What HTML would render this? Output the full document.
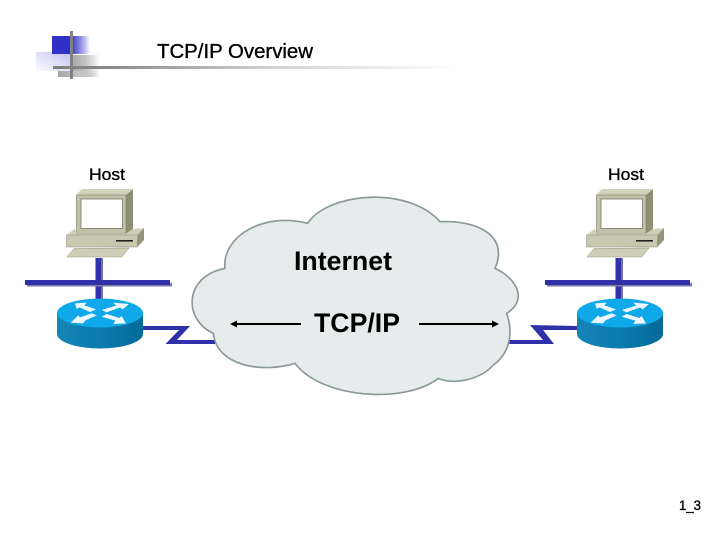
<!DOCTYPE html>
<html>
<head>
<meta charset="utf-8">
<style>
html,body{margin:0;padding:0;background:#fff}
svg{display:block}
text{font-family:"Liberation Sans",sans-serif;fill:#000}
.r{stroke:#000;stroke-width:.35}
</style>
</head>
<body>
<svg width="720" height="540" viewBox="0 0 720 540" xmlns="http://www.w3.org/2000/svg">
<defs>
<linearGradient id="blue" x1="0" x2="1" y1="0" y2="0">
<stop offset="0" stop-color="#3030c4"/><stop offset=".53" stop-color="#3030c4"/><stop offset=".6" stop-color="#5a5ad0"/><stop offset="1" stop-color="#3333cc" stop-opacity="0"/>
</linearGradient>
<linearGradient id="lav" x1="0" x2="1" y1="1" y2="0">
<stop offset="0" stop-color="#fbfbff"/><stop offset=".55" stop-color="#dcdcf8"/><stop offset="1" stop-color="#c0c0f0"/>
</linearGradient>
<linearGradient id="gray" x1="0" x2="1" y1="0" y2="0">
<stop offset="0" stop-color="#a8a8a8"/><stop offset=".5" stop-color="#c4c4c4"/><stop offset="1" stop-color="#c4c4c4" stop-opacity="0"/>
</linearGradient>
<linearGradient id="line" x1="0" x2="1" y1="0" y2="0">
<stop offset="0" stop-color="#808080"/><stop offset=".15" stop-color="#8c8c8c"/><stop offset=".55" stop-color="#d4d4d4"/><stop offset="1" stop-color="#fff"/>
</linearGradient>
<linearGradient id="rside" x1="0" x2="1" y1="0" y2="0">
<stop offset="0" stop-color="#1585b5"/><stop offset=".5" stop-color="#0a7cae"/><stop offset="1" stop-color="#056a98"/>
</linearGradient>

<g id="host">
  <!-- monitor -->
  <polygon points="76.5,195 81.5,189 133,189 126,195" fill="#d2d2ba"/>
  <polygon points="126,195 133,189 133,229 126,234" fill="#8e8e72"/>
  <rect x="76.5" y="195" width="49.5" height="38.5" fill="#c2c2a8" stroke="#7c7c6a" stroke-width=".6"/>
  <rect x="81" y="199" width="41.5" height="29.5" fill="#fff" stroke="#77776a" stroke-width=".8"/>
  <!-- base -->
  <polygon points="66.5,235 75,228.5 76.5,233.5 126,233.5 133,229 144,228 137.5,235" fill="#d0d0b8"/>
  <polygon points="137.5,235 144,228 144,240 137.5,247" fill="#94947a"/>
  <rect x="66.5" y="235" width="71" height="12" fill="#c8c8b0" stroke="#8c8c7c" stroke-width=".5"/>
  <rect x="116" y="240" width="17" height="1.6" fill="#222"/>
  <!-- keyboard -->
  <polygon points="67,257 74,248.5 129,248 122,257" fill="#cfcfb8" stroke="#94947e" stroke-width=".5"/>
  <!-- vertical link -->
  <rect x="97" y="258" width="6" height="41" fill="#7272a8"/>
  <rect x="95.5" y="258" width="5.5" height="41" fill="#3030a8"/>
  <!-- bus -->
  <rect x="27" y="283" width="145" height="3.5" fill="#7a7aa4"/>
  <rect x="25" y="280" width="145" height="5" fill="#3030a8"/>
  <!-- router -->
  <path d="M57,313 V334 A43,14.5 0 0 0 143,334 V313 Z" fill="url(#rside)"/>
  <ellipse cx="100" cy="313" rx="43" ry="14.5" fill="#0fa8e8"/>
  <g fill="#eef8fc" transform="translate(50,290) scale(.33333)">
    <polygon points="75,40 110,38 103,46 138,58 120,66 88,52 80,57"/>
    <polygon points="237,42 190,38 198,47 155,60 170,67 210,52 218,58"/>
    <polygon points="62,98 100,100 105,92 140,76 125,70 90,82 85,76"/>
    <polygon points="228,100 190,102 196,92 155,80 170,72 208,84 215,78"/>
  </g>
</g>
</defs>

<!-- header logo -->
<rect x="36" y="52" width="35" height="19" fill="url(#lav)"/>
<rect x="52" y="36" width="38" height="18" fill="url(#blue)"/>
<rect x="72" y="55" width="28" height="22" fill="url(#gray)"/>
<rect x="58" y="71" width="42" height="6" fill="url(#gray)"/>
<rect x="53" y="66" width="410" height="3" fill="url(#line)"/>
<rect x="70" y="31" width="3" height="48" fill="#808080"/>
<text class="r" x="157" y="58" font-size="20" textLength="156" lengthAdjust="spacingAndGlyphs">TCP/IP Overview</text>

<!-- hosts -->
<use href="#host"/>
<use href="#host" x="520"/>

<!-- serial links -->
<polygon points="143,326 190,326 177,340 215,340 215,344 165.5,344 179,330 143,330" fill="#3030a8"/>
<polygon points="577,326 530,325 543,340 507,340 507,344 554,344 543,330 577,330" fill="#3030a8"/>

<!-- cloud -->
<g transform="translate(180,190) scale(.33333)">
<path d="M135,235 C125,140 250,65 383,100 C440,10 680,-16 780,95 C880,90 990,130 945,235 C1010,265 1045,330 980,370 C998,420 995,485 940,525 C900,570 820,585 775,565 C680,640 430,630 345,520 C250,550 110,530 100,430 C10,390 10,260 135,235 Z" fill="#e6ecec" stroke="#8a9a98" stroke-width="5"/>
</g>

<!-- labels -->
<text class="r" x="89" y="180" font-size="17" textLength="36" lengthAdjust="spacingAndGlyphs">Host</text>
<text class="r" x="608" y="180" font-size="17" textLength="36" lengthAdjust="spacingAndGlyphs">Host</text>
<text x="294" y="270" font-size="26.5" font-weight="bold" textLength="98" lengthAdjust="spacingAndGlyphs">Internet</text>
<text x="314" y="332" font-size="26.5" font-weight="bold" textLength="86" lengthAdjust="spacingAndGlyphs">TCP/IP</text>
<text class="r" x="679" y="510" font-size="14" textLength="22" lengthAdjust="spacingAndGlyphs">1_3</text>

<!-- arrows -->
<rect x="235" y="323" width="66" height="2" fill="#000"/>
<polygon points="230,324 237,320.5 237,327.5" fill="#000"/>
<rect x="419" y="323" width="74" height="2" fill="#000"/>
<polygon points="499,324 492,320.5 492,327.5" fill="#000"/>
</svg>
</body>
</html>
